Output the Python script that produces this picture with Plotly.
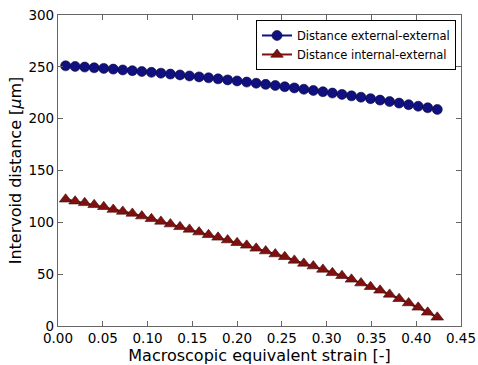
import plotly.graph_objects as go

strain = [0.0085, 0.0191, 0.0298, 0.0404, 0.0511, 0.0617, 0.0723, 0.0830,
          0.0936, 0.1043, 0.1149, 0.1255, 0.1362, 0.1468, 0.1575, 0.1681,
          0.1787, 0.1894, 0.2000, 0.2107, 0.2213, 0.2319, 0.2426, 0.2532,
          0.2639, 0.2745, 0.2851, 0.2958, 0.3064, 0.3171, 0.3277, 0.3383,
          0.3490, 0.3596, 0.3703, 0.3809, 0.3915, 0.4022, 0.4128, 0.4235]

ext_ext = [251.0, 250.4, 249.8, 249.1, 248.5, 247.8, 247.0, 246.3, 245.5, 244.7,
           243.9, 243.0, 242.2, 241.2, 240.3, 239.4, 238.4, 237.4, 236.4, 235.3,
           234.2, 233.1, 232.0, 230.8, 229.7, 228.4, 227.2, 226.0, 224.7, 223.4,
           222.0, 220.7, 219.3, 217.9, 216.5, 215.0, 213.5, 212.0, 210.5, 208.9]

int_ext = [122.3, 120.4, 118.8, 116.9, 115.0, 112.4, 110.5, 108.6, 106.0, 103.4,
           100.9, 98.3, 95.7, 93.2, 90.6, 88.0, 85.5, 82.9, 80.3, 77.8,
           74.9, 72.3, 69.4, 66.8, 63.3, 60.4, 57.8, 54.6, 51.3, 48.5,
           45.0, 41.4, 37.9, 34.4, 30.5, 26.3, 22.2, 18.0, 13.2, 8.4]

x_ticks = [0.00, 0.05, 0.10, 0.15, 0.20, 0.25, 0.30, 0.35, 0.40, 0.45]
y_ticks = [0, 50, 100, 150, 200, 250, 300]

blue = "rgb(16,16,128)"
red = "rgb(128,16,16)"

fig = go.Figure()
fig.add_trace(go.Scatter(
    x=strain, y=ext_ext, mode="lines+markers", name="Distance external-external",
    line=dict(color=blue, width=2),
    marker=dict(symbol="circle", size=10, color=blue, line=dict(color="rgb(10,10,60)", width=0.6)),
))
fig.add_trace(go.Scatter(
    x=strain, y=int_ext, mode="lines+markers", name="Distance internal-external",
    line=dict(color=red, width=2),
    marker=dict(symbol="triangle-up", size=11, color=red, line=dict(color="rgb(60,10,10)", width=0.6)),
))

axis_common = dict(
    showline=True, linecolor="#666666", linewidth=1.2, mirror="ticks",
    ticks="inside", ticklen=5, tickcolor="#666666", showgrid=False, zeroline=False,
    automargin=False,
    tickfont=dict(family="DejaVu Sans", size=13.5, color="black"),
)

fig.update_layout(
    width=478, height=365,
    margin=dict(l=58, r=17, t=15, b=39),
    paper_bgcolor="white", plot_bgcolor="white",
    font=dict(family="DejaVu Sans", color="black"),
    xaxis=dict(range=[0, 0.45], tickvals=x_ticks, ticktext=[f"{v:.2f}" for v in x_ticks],
               title=dict(text="Macroscopic equivalent strain [-]", font=dict(size=16), standoff=0),
               **axis_common),
    yaxis=dict(range=[0, 300], tickvals=y_ticks, ticktext=[str(v) for v in y_ticks],
               title=dict(text="Intervoid distance [<i>μ</i>m]", font=dict(size=16), standoff=2),
               **axis_common),
    legend=dict(x=0.9876, y=0.984, xanchor="right", yanchor="top",
                bordercolor="black", borderwidth=1, bgcolor="white",
                font=dict(family="DejaVu Sans", size=11.5), tracegroupgap=0,
                itemwidth=30),
    showlegend=True,
)

fig.write_html("out.html")
